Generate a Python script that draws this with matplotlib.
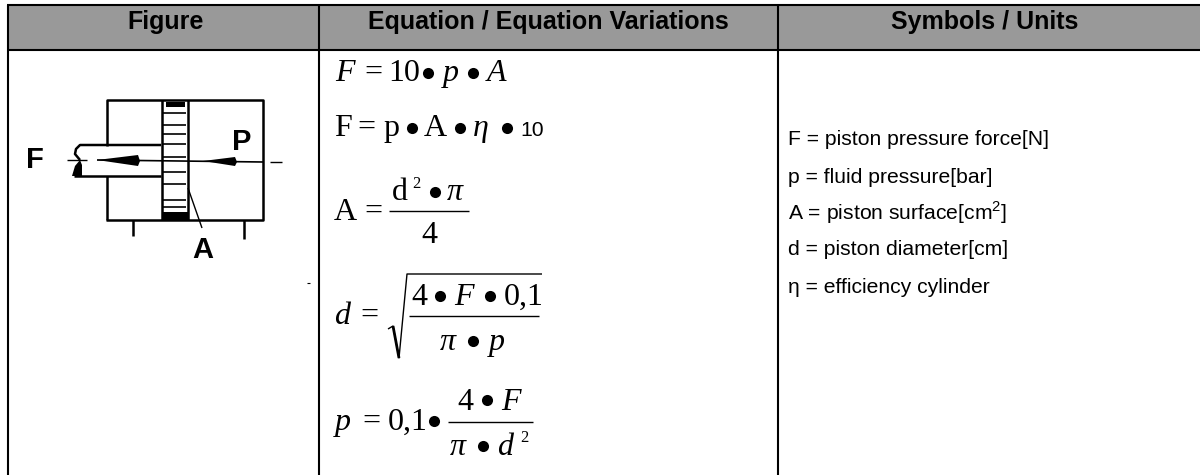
# Table with the piston force equations, drawn on a full figure axes in pixel units

import matplotlib
matplotlib.use("Agg")
import matplotlib.pyplot as plt

W, H = 1200, 475
SANS = "Liberation Sans"
SERIF = "Liberation Serif"

# table
col_x = [7.5, 319, 778]
row_y = [5, 50]
header_labels = ["Figure", "Equation / Equation Variations", "Symbols / Units"]
header_x = [166, 548, 985]

# symbols column
symbol_lines = ["F = piston pressure force[N]", "p = fluid pressure[bar]",
                r"A = piston surface[cm$^{2}$]", "d = piston diameter[cm]",
                "\u03b7 = efficiency cylinder"]
symbol_base = [145, 183, 220, 255, 293]

# equation pieces: text, x, baseline, italic
eq_pieces = [
    ("F", 335, 81, True), ("=", 364, 81, False), ("10", 388, 81, False),
    ("p", 443, 81, True), ("A", 487, 81, True),
    ("F", 334, 136, False), ("=", 357, 136, False), ("p", 383, 136, False),
    ("A", 424, 136, False), ("\u03b7", 473, 136, True),
    ("A", 334, 220, False), ("=", 364, 220, False), ("d", 392, 200, False),
    ("\u03c0", 447, 200, True), ("4", 421, 243, False),
    ("d", 334, 324, True), ("=", 360, 324, False), ("4", 411, 305, False),
    ("F", 454, 305, True), ("0,1", 504, 305, False),
    ("\u03c0", 440, 350, True), ("p", 489, 350, True),
    ("p", 335, 430, True), ("=", 362, 430, False), ("0,1", 388, 430, False),
    ("4", 457, 410, False), ("F", 501, 410, True),
    ("\u03c0", 450, 455, True), ("d", 497, 455, True),
]
sup_pieces = [("2", 412, 188), ("2", 520, 442)]
bullet_x = [428, 473, 412, 460, 507, 435, 440, 490, 473, 434, 487, 483]
bullet_y = [73, 73, 128, 128, 128, 192, 296, 296, 341, 421, 400, 446]
frac_lines = [(389, 469, 211), (409, 539, 316), (448, 533, 422)]
sqrt_x = [388, 393, 399, 407, 542]
sqrt_y = [329, 326, 358, 274, 274]

# cylinder sketch
box_top_x = [107, 107, 263, 263, 106]
box_top_y = [146, 100, 100, 220, 220]
box_low_x = [107, 107]
box_low_y = [176, 220]
rod_top_x = [161, 80, 76, 75, 80]
rod_top_y = [145, 145, 149, 154, 160]
rod_low_x = [74, 161]
rod_low_y = [176, 176]
piston_x = [162, 188]
hatch_y = [113, 125, 134, 144, 157, 172, 184, 200, 207]
arrow_left_x = [97, 138, 140, 138]
arrow_left_y = [160, 155, 161, 166]
arrow_right_x = [203, 235, 237, 235]
arrow_right_y = [161, 157, 162, 166]
blob_x = [72, 75, 80, 82, 82, 72]
blob_y = [176, 166, 160, 165, 176, 176]
feet_x = [133, 244]
feet_end = [236, 239]
sketch_labels = [("F", 26, 168), ("P", 232, 150), ("A", 192, 258)]


def line(ax, xs, ys, lw=1.5, **kw):
    ax.plot(xs, ys, color="black", lw=lw, solid_capstyle="butt", **kw)


def draw_table(ax):
    ax.fill_between([col_x[0], W], row_y[0], row_y[1], color="#999999", lw=0)
    for x in col_x:
        line(ax, [x, x], [row_y[0], H])
    for y in row_y:
        line(ax, [col_x[0] - 1, W], [y, y], lw=1.5)
    for lab, x in zip(header_labels, header_x):
        ax.text(x, 29, lab, family=SANS, weight="bold", size=18, ha="center",
                va="baseline")


def draw_sketch(ax):
    line(ax, box_top_x, box_top_y, lw=1.8)
    line(ax, box_low_x, box_low_y, lw=1.8)
    line(ax, rod_top_x, rod_top_y, lw=1.8)
    line(ax, rod_low_x, rod_low_y, lw=1.8)
    for x in piston_x:
        line(ax, [x, x], [100, 220], lw=1.8)
    for y in hatch_y:
        line(ax, [piston_x[0], piston_x[1] - 2], [y, y], lw=1.2)
    ax.fill_between([166, 185], 102, 107, color="black", lw=0)
    ax.fill_between(piston_x, 212, 220, color="black", lw=0)
    line(ax, [67, 87], [160, 160], lw=1)
    line(ax, [97, 263], [160, 162], lw=1.2)
    line(ax, [270, 282], [162, 162], lw=1)
    ax.fill(arrow_left_x, arrow_left_y, color="black", lw=0)
    ax.fill(arrow_right_x, arrow_right_y, color="black", lw=0)
    ax.fill(blob_x, blob_y, color="black", lw=0)
    for x, end in zip(feet_x, feet_end):
        line(ax, [x, x], [220, end], lw=1.8)
    line(ax, [188, 202], [188, 228], lw=1)
    line(ax, [307, 310], [283, 283], lw=0.8)
    for lab, x, y in sketch_labels:
        ax.text(x, y, lab, family=SANS, weight="bold", size=21, ha="left", va="baseline")


def draw_equations(ax):
    for txt, x, y, ital in eq_pieces:
        ax.text(x, y, txt, family=SERIF, size=23, style="italic" if ital else "normal",
                ha="left", va="baseline")
    for txt, x, y in sup_pieces:
        ax.text(x, y, txt, family=SERIF, size=12, ha="left", va="baseline")
    ax.text(520, 136, "10", family=SANS, size=15.2, ha="left", va="baseline")
    ax.plot(bullet_x, bullet_y, "o", color="black", ms=8, mew=0, ls="none")
    for x0, x1, y in frac_lines:
        line(ax, [x0, x1], [y, y], lw=1)
    line(ax, sqrt_x, sqrt_y, lw=1)
    line(ax, sqrt_x[1:3], sqrt_y[1:3], lw=2)


def main():
    plt.rcParams["mathtext.fontset"] = "custom"
    plt.rcParams["mathtext.rm"] = SANS

    fig = plt.figure(figsize=(W / 100, H / 100), dpi=100)
    ax = fig.add_axes([0, 0, 1, 1])
    ax.set_xlim(0, W)
    ax.set_ylim(H, 0)
    ax.axis("off")

    draw_table(ax)
    draw_sketch(ax)
    draw_equations(ax)
    for lab, y in zip(symbol_lines, symbol_base):
        ax.text(788, y, lab, family=SANS, size=15.2, ha="left", va="baseline")

    fig.savefig("out.png", dpi=100)


if __name__ == "__main__":
    main()
